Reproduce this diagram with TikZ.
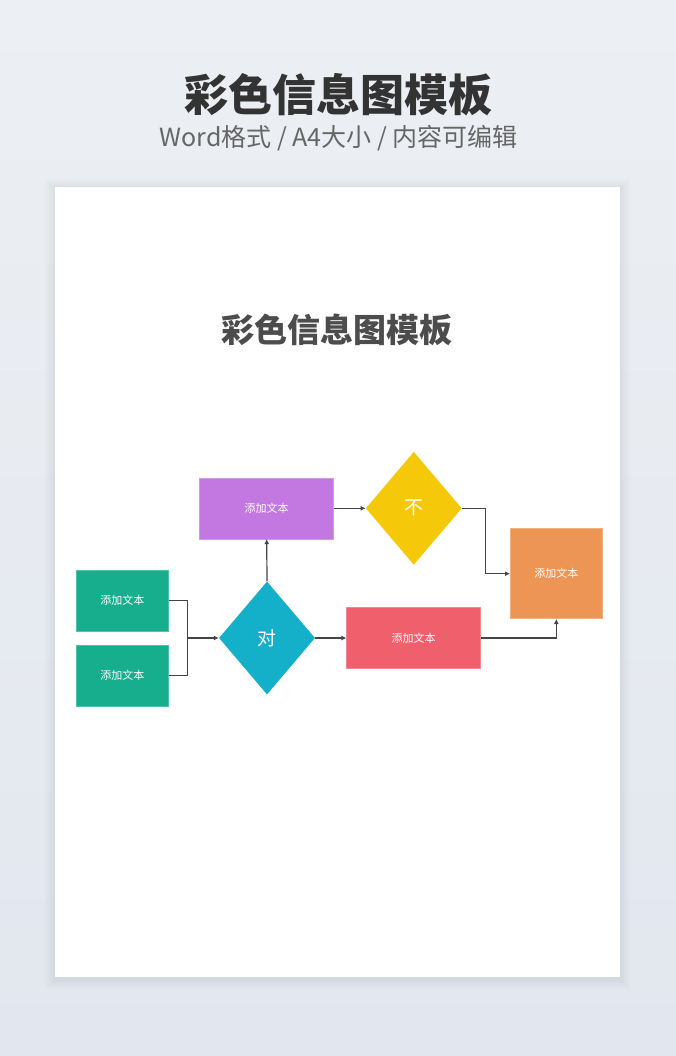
\documentclass[tikz,border=0pt]{standalone}
\usepackage{fontspec}
\newfontfamily\cjk{Noto Sans CJK SC}
\usepackage{tikz}
\usetikzlibrary{shapes.geometric, positioning, arrows.meta}

\definecolor{bgTop}{HTML}{ECEFF3}
\definecolor{bgBot}{HTML}{E2E7EF}
\definecolor{cGreen}{HTML}{17AE8E}
\definecolor{cTeal}{HTML}{14AFC9}
\definecolor{cPurple}{HTML}{C277E1}
\definecolor{cYellow}{HTML}{F5C909}
\definecolor{cRed}{HTML}{EF5F6C}
\definecolor{cOrange}{HTML}{EC9555}
\definecolor{cLine}{HTML}{444444}

\tikzset{
	box/.style = {rectangle, draw=#1!75!white, fill=#1, line width=0.6pt, inner sep=0pt,
		text=white, font=\cjk\fontsize{11}{11}\selectfont},
	choice/.style = {diamond, fill=#1, inner sep=0pt, minimum width=96pt, minimum height=113pt,
		text=white, font=\cjk\fontsize{19}{19}\selectfont},
	link/.style = {draw=cLine, line width=1.2pt}
}

\begin{document}
\begin{tikzpicture}[x=1pt, y=-1pt]
					\def\pageL{55};
					\def\pageR{620};
					\def\pageT{187};
					\def\pageB{977};

					% background and page
					\useasboundingbox (0,0) rectangle (676,1056);
					\shade [top color=bgTop, bottom color=bgBot] (0,0) rectangle (676,1056);
					\foreach \s in {10,8,6,4,2}
					{
						\fill [black, opacity=0.012] (\pageL - \s,\pageT - \s + 2) rectangle (\pageR + \s,\pageB + \s + 2);
					}
					\fill [white] (\pageL,\pageT) rectangle (\pageR,\pageB);

					% titles
					\node [text=black!80, font=\cjk\bfseries\fontsize{44}{44}\selectfont] (title) at (338,95) {彩色信息图模板};
					\node [text=black!60, font=\cjk\fontsize{25}{25}\selectfont] (subtitle) at (338.5,138) {Word格式 / A4大小 / 内容可编辑};
					\node [text=black!70, font=\cjk\bfseries\fontsize{33}{33}\selectfont] (pagetitle) at (336.5,330) {彩色信息图模板};

					% steps
					\node [box=cGreen, minimum width=92pt, minimum height=61pt] (inA) at (122.3,600.5) {添加文本};
					\node [box=cGreen, minimum width=92pt, minimum height=61pt] (inB) at (122.3,675.5) {添加文本};
					\node [choice=cTeal] (dui) at (267,638) {对};
					\node [box=cPurple, minimum width=134pt, minimum height=61pt] (upper) at (266.7,508.3) {添加文本};
					\node [choice=cYellow] (bu) at (413.8,508.3) {不};
					\node [box=cRed, minimum width=134pt, minimum height=61pt] (lower) at (413.7,638) {添加文本};
					\node [box=cOrange, minimum width=92pt, minimum height=90pt] (out) at (556.3,573.7) {添加文本};

					\coordinate (joinL) at (187.3,638);
					\coordinate (joinR) at (485.7,508.3);

					% connectors
					\draw [link] (inA.east) -| (joinL);
					\draw [link] (inB.east) -| (joinL);
					\begin{scope}[-{Latex[length=5pt, width=5pt]}]
						\draw [link] (joinL) -- (dui.west);
						\draw [link] (dui.north) -- (upper.south);
						\draw [link] (dui.east) -- (lower.west);
						\draw [link] (upper.east) -- (bu.west);
						\draw [link] (bu.east) -- (joinR) |- (out.west);
						\draw [link] (lower.east) -| (out.south);
					\end{scope}

				\end{tikzpicture}
\end{document}
